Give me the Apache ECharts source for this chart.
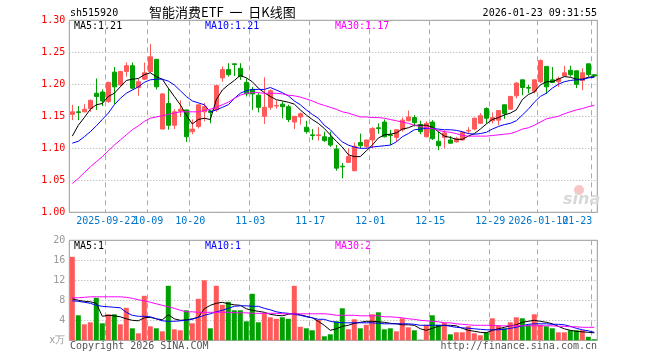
<!DOCTYPE html>
<html><head><meta charset="utf-8">
<script src="https://cdn.jsdelivr.net/npm/echarts@6/dist/echarts.min.js"></script>
<style>html,body{margin:0;padding:0;background:#fff}#c{width:660px;height:360px}</style>
</head><body><div id="c"></div>
<script>
const dates = [
'2025-09-12','2025-09-15','2025-09-16','2025-09-17','2025-09-18','2025-09-19','2025-09-22','2025-09-23','2025-09-24','2025-09-25','2025-09-26','2025-09-29','2025-09-30',
'2025-10-09','2025-10-10','2025-10-13','2025-10-14','2025-10-15','2025-10-16','2025-10-17','2025-10-20','2025-10-21','2025-10-22','2025-10-23','2025-10-24','2025-10-27','2025-10-28','2025-10-29','2025-10-30','2025-10-31',
'2025-11-03','2025-11-04','2025-11-05','2025-11-06','2025-11-07','2025-11-10','2025-11-11','2025-11-12','2025-11-13','2025-11-14','2025-11-17','2025-11-18','2025-11-19','2025-11-20','2025-11-21','2025-11-24','2025-11-25','2025-11-26','2025-11-27','2025-11-28',
'2025-12-01','2025-12-02','2025-12-03','2025-12-04','2025-12-05','2025-12-08','2025-12-09','2025-12-10','2025-12-11','2025-12-12','2025-12-15','2025-12-16','2025-12-17','2025-12-18','2025-12-19','2025-12-22','2025-12-23','2025-12-24','2025-12-25','2025-12-26','2025-12-29','2025-12-30','2025-12-31',
'2026-01-05','2026-01-06','2026-01-07','2026-01-08','2026-01-09','2026-01-12','2026-01-13','2026-01-14','2026-01-15','2026-01-16','2026-01-19','2026-01-20','2026-01-21','2026-01-22','2026-01-23'];

const opens = [1.153,1.157,1.157,1.162,1.186,1.188,1.173,1.219,1.199,1.220,1.229,1.195,1.208,1.220,1.239,1.130,1.170,1.136,1.158,1.160,1.126,1.134,1.157,1.158,1.160,1.210,1.223,1.232,1.225,1.203,1.192,1.183,1.150,1.164,1.166,1.169,1.165,1.141,1.149,1.133,1.121,1.120,1.118,1.117,1.099,1.072,1.078,1.065,1.109,1.103,1.113,1.132,1.141,1.121,1.117,1.129,1.143,1.148,1.137,1.118,1.141,1.111,1.117,1.113,1.110,1.113,1.127,1.130,1.139,1.162,1.143,1.144,1.168,1.161,1.182,1.207,1.195,1.189,1.204,1.228,1.207,1.204,1.213,1.222,1.221,1.206,1.232,1.215];
const closes = [1.157,1.156,1.161,1.175,1.181,1.174,1.203,1.196,1.220,1.229,1.194,1.204,1.218,1.243,1.196,1.185,1.136,1.157,1.161,1.118,1.130,1.168,1.165,1.156,1.198,1.223,1.215,1.231,1.212,1.185,1.185,1.164,1.164,1.190,1.167,1.165,1.145,1.150,1.154,1.126,1.120,1.121,1.112,1.105,1.069,1.071,1.087,1.103,1.104,1.113,1.131,1.131,1.118,1.120,1.129,1.144,1.149,1.140,1.126,1.139,1.115,1.104,1.124,1.108,1.115,1.125,1.128,1.147,1.151,1.147,1.148,1.159,1.154,1.181,1.202,1.195,1.194,1.207,1.237,1.196,1.203,1.209,1.218,1.215,1.200,1.218,1.215,1.213];
const lows = [1.144,1.144,1.156,1.157,1.160,1.166,1.171,1.169,1.197,1.212,1.192,1.182,1.207,1.218,1.192,1.130,1.129,1.130,1.149,1.110,1.122,1.131,1.142,1.139,1.157,1.204,1.212,1.213,1.207,1.181,1.160,1.156,1.138,1.160,1.162,1.147,1.141,1.130,1.137,1.123,1.113,1.112,1.110,1.102,1.065,1.053,1.077,1.064,1.100,1.100,1.100,1.123,1.117,1.105,1.110,1.126,1.142,1.134,1.122,1.117,1.113,1.097,1.100,1.107,1.109,1.112,1.123,1.128,1.138,1.139,1.139,1.136,1.146,1.160,1.178,1.183,1.186,1.186,1.202,1.185,1.202,1.196,1.212,1.212,1.194,1.191,1.212,1.212];
const highs = [1.168,1.166,1.169,1.176,1.209,1.192,1.204,1.227,1.221,1.234,1.234,1.208,1.234,1.263,1.239,1.186,1.193,1.161,1.175,1.160,1.145,1.168,1.171,1.160,1.199,1.228,1.233,1.232,1.233,1.209,1.196,1.186,1.211,1.192,1.175,1.173,1.168,1.150,1.156,1.143,1.130,1.133,1.126,1.126,1.105,1.077,1.100,1.109,1.123,1.113,1.133,1.139,1.145,1.129,1.130,1.148,1.159,1.152,1.143,1.142,1.144,1.126,1.128,1.119,1.118,1.126,1.133,1.148,1.155,1.164,1.156,1.159,1.168,1.182,1.203,1.207,1.199,1.207,1.239,1.228,1.227,1.212,1.229,1.229,1.222,1.225,1.232,1.215];

const ma5 = [1.119,1.136,1.148,1.161,1.168,1.170,1.181,1.186,1.196,1.206,1.208,1.209,1.215,1.218,1.212,1.208,1.194,1.181,1.168,1.152,1.138,1.145,1.147,1.145,1.176,1.191,1.199,1.206,1.214,1.210,1.204,1.194,1.187,1.181,1.176,1.174,1.172,1.169,1.160,1.152,1.145,1.139,1.131,1.121,1.111,1.102,1.090,1.087,1.087,1.096,1.105,1.116,1.121,1.122,1.124,1.130,1.132,1.136,1.136,1.136,1.133,1.126,1.119,1.117,1.114,1.114,1.119,1.123,1.130,1.138,1.145,1.148,1.152,1.155,1.160,1.176,1.184,1.188,1.199,1.204,1.204,1.208,1.212,1.211,1.208,1.208,1.211,1.212];
const ma10 = [1.108,1.111,1.118,1.126,1.135,1.145,1.155,1.168,1.178,1.186,1.191,1.196,1.203,1.207,1.208,1.208,1.205,1.199,1.190,1.181,1.174,1.171,1.168,1.157,1.160,1.164,1.168,1.178,1.186,1.190,1.192,1.192,1.192,1.195,1.191,1.187,1.182,1.174,1.168,1.160,1.153,1.147,1.136,1.129,1.119,1.110,1.105,1.102,1.100,1.100,1.102,1.103,1.104,1.105,1.110,1.118,1.123,1.129,1.130,1.131,1.131,1.130,1.129,1.129,1.128,1.126,1.123,1.122,1.123,1.125,1.130,1.134,1.137,1.139,1.143,1.152,1.161,1.172,1.181,1.186,1.194,1.200,1.204,1.206,1.207,1.207,1.210,1.211];
const ma30 = [1.045,1.053,1.062,1.071,1.079,1.087,1.096,1.105,1.113,1.121,1.129,1.135,1.142,1.147,1.149,1.151,1.153,1.155,1.157,1.157,1.157,1.157,1.159,1.161,1.164,1.168,1.172,1.178,1.183,1.186,1.187,1.187,1.186,1.186,1.186,1.185,1.183,1.182,1.180,1.177,1.174,1.170,1.167,1.164,1.161,1.157,1.155,1.152,1.149,1.149,1.148,1.148,1.147,1.145,1.143,1.141,1.139,1.136,1.134,1.132,1.131,1.128,1.126,1.125,1.123,1.120,1.119,1.119,1.119,1.119,1.120,1.121,1.122,1.123,1.126,1.130,1.132,1.136,1.141,1.146,1.148,1.150,1.154,1.157,1.160,1.162,1.165,1.167];

const vols = [16.7,5.0,3.2,3.6,8.5,3.4,5.2,5.2,3.2,6.5,2.4,1.4,8.9,2.8,2.4,1.8,10.9,2.2,2.0,6.0,3.4,8.3,12.0,2.4,10.9,7.1,7.7,6.0,6.0,3.8,9.3,3.6,5.4,4.6,4.3,4.6,4.3,10.9,2.7,2.4,2.0,4.1,0.8,1.2,3.8,6.4,2.2,4.2,2.4,3.1,5.2,5.6,2.2,2.4,1.8,4.4,2.6,2.0,0.1,3.1,5.0,3.1,3.5,1.2,1.6,1.6,2.8,1.4,1.0,1.6,4.4,3.0,2.4,3.6,4.6,4.4,3.1,5.2,3.1,2.8,2.4,1.6,1.6,2.0,2.0,2.0,0.7,0.2];
const vma5 = [8.3,8.0,7.8,7.7,7.4,4.8,5.0,4.9,4.7,4.3,4.0,3.9,4.5,4.6,4.3,4.1,5.1,4.3,4.0,4.1,4.3,4.6,6.3,7.0,7.4,7.6,7.3,7.1,7.0,6.3,6.0,5.8,5.6,5.2,5.0,4.9,5.2,5.4,5.1,4.8,4.5,3.8,3.0,2.0,2.3,2.8,3.0,3.4,3.6,3.8,3.8,3.7,3.6,3.4,3.3,3.1,3.1,3.0,2.3,2.0,2.4,2.8,3.0,3.0,2.9,2.4,2.0,1.8,1.6,1.5,2.0,2.3,2.6,2.9,3.1,3.6,3.8,4.0,3.8,3.6,3.3,2.8,2.3,2.0,1.8,1.7,1.6,1.5];
const vma10 = [7.9,7.8,7.6,7.4,7.0,6.8,6.7,6.6,6.5,5.6,5.0,4.8,4.8,4.7,4.3,3.9,3.8,3.8,3.9,4.0,4.2,4.6,5.0,5.3,5.7,6.0,6.4,6.8,6.9,6.9,6.8,6.8,6.4,6.1,5.7,5.5,5.4,5.2,5.0,4.7,4.5,4.2,4.2,3.8,3.6,3.5,3.5,3.5,3.5,3.5,3.5,3.4,3.3,3.3,3.3,3.3,3.3,3.2,3.0,3.0,3.0,3.0,3.0,2.8,2.6,2.5,2.4,2.3,2.2,2.1,2.1,2.1,2.2,2.4,2.6,2.9,3.2,3.3,3.3,3.3,3.2,3.2,3.1,2.8,2.4,2.1,1.9,1.6];
const vma30 = [8.5,8.5,8.6,8.7,8.7,8.7,8.7,8.7,8.7,8.6,8.4,8.1,7.9,7.6,7.3,7.0,6.7,6.4,6.0,5.7,5.7,5.6,5.6,5.6,5.6,5.6,5.6,5.5,5.5,5.5,5.4,5.4,5.4,5.4,5.4,5.3,5.3,5.3,5.3,5.3,5.3,5.3,5.3,5.2,5.0,5.0,5.0,5.0,4.9,4.9,4.9,4.9,4.7,4.7,4.6,4.5,4.3,4.2,4.0,3.9,3.8,3.7,3.5,3.5,3.3,3.2,3.1,3.0,3.0,3.0,3.0,2.9,2.9,2.9,2.9,2.9,2.9,2.9,2.9,2.9,2.9,2.8,2.8,2.7,2.7,2.6,2.6,2.6];

const labelIdx = [6,13,20,30,40,50,60,70,78,87];
const fullYearLabels = [6,78];
const priceMin = 1.00, priceMax = 1.30, priceStep = 0.05;
const volMin = 0, volMax = 20, volStep = 4;
const title = '智能消费ETF 一 日K线图';
const code = 'sh515920';
const stamp = '2026-01-23 09:31:55';
const legendMain = ['MA5:1.21','MA10:1.21','MA30:1.17'];
const legendVol = ['MA5:1','MA10:1','MA30:2'];

const RED = '#ff5a5a', GREEN = '#00a000';
const MONO = '"DejaVu Sans Mono", "Liberation Mono", monospace';
const GL = 69.3, GR = 62.7;

const kData = opens.map((o,i)=>[o, closes[i], lows[i], highs[i]]);
const volData = vols.map((v,i)=>({value:v, itemStyle:{color: closes[i] >= opens[i] ? RED : GREEN}}));
const showIdx = (i)=> labelIdx.indexOf(i) >= 0;

const chart = echarts.init(document.getElementById('c'), null, {renderer:'canvas'});
const lineS = (name, data, color, xi, yi)=>({type:'line', name, data, xAxisIndex:xi, yAxisIndex:yi, symbol:'none', smooth:false, z:5,
  lineStyle:{color, width:1}, itemStyle:{color}, emphasis:{disabled:true}, animation:false});

const xCommon = {type:'category', data:dates, boundaryGap:true,
  axisLine:{show:false}, axisTick:{show:false}, axisLabel:{show:false},
  splitLine:{show:true, interval:(i)=>showIdx(i), lineStyle:{color:'#aaa', type:[5,4], width:1}}};

const staticGraphics = [
  {type:'text', left:70, top:8, style:{text:code, font:'10px '+MONO, fill:'#000'}},
  {type:'text', left:149, top:6, style:{text:title.replace(' 一 ','  一  '), font:'13px "Noto Sans CJK SC"', fill:'#000'}},
  {type:'text', right:63, top:8, style:{text:stamp, font:'10px '+MONO, fill:'#000'}},
  {type:'text', left:74, top:21, style:{text:legendMain[0], font:'10px '+MONO, fill:'#000'}},
  {type:'text', left:205, top:21, style:{text:legendMain[1], font:'10px '+MONO, fill:'#0000ff'}},
  {type:'text', left:335, top:21, style:{text:legendMain[2], font:'10px '+MONO, fill:'#ff00ff'}},
  {type:'text', left:74, top:241, style:{text:legendVol[0], font:'10px '+MONO, fill:'#000'}},
  {type:'text', left:205, top:241, style:{text:legendVol[1], font:'10px '+MONO, fill:'#0000ff'}},
  {type:'text', left:335, top:241, style:{text:legendVol[2], font:'10px '+MONO, fill:'#ff00ff'}},
  {type:'text', left:70, top:341, style:{text:'Copyright 2026 SINA.COM', font:'10px '+MONO, fill:'#555'}},
  {type:'text', right:63, top:341, style:{text:'http://finance.sina.com.cn', font:'10px '+MONO, fill:'#555'}},
  {type:'circle', shape:{cx:579, cy:190, r:5}, style:{fill:'#f6c6c6'}, z:1},
  {type:'text', left:563, top:192, style:{text:'sina', font:'italic bold 16px "DejaVu Sans"', fill:'#d8d8d8'}, z:1}
];

chart.setOption({
  animation:false,
  backgroundColor:'#fff',
  grid:[
    {left:GL, right:GR, top:20.3, height:192, show:true, borderColor:'#999', borderWidth:1, backgroundColor:'transparent'},
    {left:GL, right:GR, top:240.3, height:100, show:true, borderColor:'#999', borderWidth:1, backgroundColor:'transparent'}
  ],
  xAxis:[
    Object.assign({}, xCommon, {gridIndex:0}),
    Object.assign({}, xCommon, {gridIndex:1})
  ],
  yAxis:[
    {type:'value', gridIndex:0, min:priceMin, max:priceMax, interval:priceStep,
      axisLine:{show:false}, axisTick:{show:false},
      axisLabel:{color:'#ff0000', fontFamily:MONO, fontSize:10, margin:4, formatter:(v)=>v.toFixed(2)},
      splitLine:{show:true, lineStyle:{color:'#aaa', type:[1,2], width:1}}},
    {type:'value', gridIndex:1, min:volMin, max:volMax, interval:volStep,
      axisLine:{show:false}, axisTick:{show:false},
      axisLabel:{color:'#999', fontFamily:MONO, fontSize:10, margin:4, formatter:(v)=> v===0 ? 'x万' : String(v)},
      splitLine:{show:true, lineStyle:{color:'#aaa', type:[1,2], width:1}}}
  ],
  series:[
    {type:'candlestick', data:kData, xAxisIndex:0, yAxisIndex:0, barWidth:4, z:3,
      itemStyle:{color:RED, color0:GREEN, borderColor:RED, borderColor0:GREEN, borderWidth:1}, emphasis:{disabled:true}},
    lineS('MA5', ma5, '#000000', 0, 0),
    lineS('MA10', ma10, '#0000ff', 0, 0),
    lineS('MA30', ma30, '#ff00ff', 0, 0),
    {type:'bar', data:volData, xAxisIndex:1, yAxisIndex:1, barWidth:5, z:3, emphasis:{disabled:true}},
    lineS('VMA5', vma5, '#000000', 1, 1),
    lineS('VMA10', vma10, '#0000ff', 1, 1),
    lineS('VMA30', vma30, '#ff00ff', 1, 1)
  ],
  graphic: staticGraphics
});

// x-axis labels placed at the category positions given by the axis scale
const labelY = chart.convertToPixel({yAxisIndex:0}, priceMin) + 4;
const dateLabels = labelIdx.map((idx, k)=>{
  const px = chart.convertToPixel({xAxisIndex:0}, dates[idx]) - 2;
  const isLast = k === labelIdx.length - 1;
  return {type:'text', x:px, y:labelY, silent:true,
    style:{text: fullYearLabels.indexOf(idx)>=0 ? dates[idx] : dates[idx].slice(5),
      font:'10px '+MONO, fill:'#0077cc', align: isLast ? 'right' : 'center', verticalAlign:'top'}};
});
chart.setOption({graphic: staticGraphics.concat(dateLabels)});
</script></body></html>
